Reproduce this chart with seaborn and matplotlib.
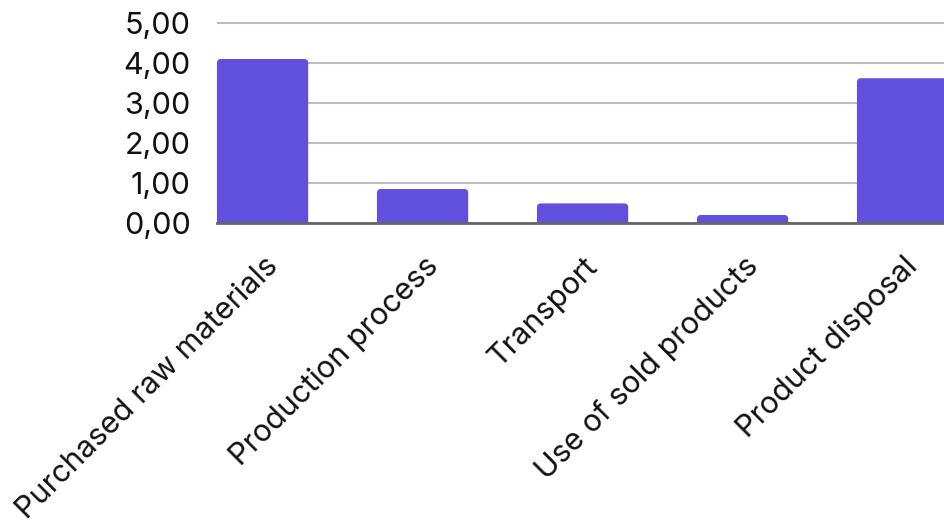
import matplotlib
matplotlib.use("Agg")
import matplotlib.pyplot as plt
import matplotlib.transforms as mtransforms
import seaborn as sns
import pandas as pd
from matplotlib.patches import FancyBboxPatch
from matplotlib.ticker import FuncFormatter

categories = ["Purchased raw materials", "Production process", "Transport",
              "Use of sold products", "Product disposal"]
values = [4.10, 0.85, 0.49, 0.20, 3.62]
yticks = [0, 1, 2, 3, 4, 5]

sns.set_theme(style="white")
plt.rcParams["font.family"] = ["Inter", "DejaVu Sans"]

bar_color = "#6150DD"
df = pd.DataFrame({"category": categories, "value": values})

fig = plt.figure(figsize=(9.45, 5.27), dpi=100)
W, H = 945, 527
bottom_px, px_per_unit, ytop = 223, 40, 5.1
left_px, slot_px, bar_w = 217, 160, 0.57
ax = fig.add_axes([left_px / W, 1 - bottom_px / H,
                   (slot_px * 5 - slot_px * (1 - bar_w)) / W,
                   px_per_unit * ytop / H])

sns.barplot(data=df, x="category", y="value", color=bar_color,
            width=bar_w, saturation=1, ax=ax, zorder=3)

# swap the square bars for ones with rounded top corners
for p in list(ax.patches):
    x0, w, h = p.get_x(), p.get_width(), p.get_height()
    p.remove()
    rb = FancyBboxPatch((x0, -0.3), w, h + 0.3,
                        boxstyle="round,pad=0,rounding_size=0.025",
                        mutation_aspect=slot_px / px_per_unit,
                        facecolor=bar_color, edgecolor="none", zorder=3)
    ax.add_patch(rb)

ax.set_xlim(-bar_w / 2, 4 + bar_w / 2)
ax.set_ylim(0, ytop)
ax.set_yticks(yticks)
ax.yaxis.set_major_formatter(FuncFormatter(lambda v, _: f"{v:.2f}".replace(".", ",")))
ax.grid(axis="y", color="#BDBDBD", linewidth=1.5, zorder=0)
ax.grid(axis="x", visible=False)
for s in ["top", "right", "left"]:
    ax.spines[s].set_visible(False)
ax.spines["bottom"].set_color("#666666")
ax.spines["bottom"].set_linewidth(2)
ax.spines["bottom"].set_zorder(4)
ax.set_xlabel("")
ax.set_ylabel("")
ax.tick_params(axis="y", length=0, pad=19, labelsize=22, labelcolor="#111111")
ax.tick_params(axis="x", length=0, pad=28, labelsize=22, labelcolor="#111111")
shift = mtransforms.ScaledTranslation(11 / 100, 0, fig.dpi_scale_trans)
for lbl in ax.get_xticklabels():
    lbl.set_rotation(45)
    lbl.set_ha("right")
    lbl.set_va("center")
    lbl.set_rotation_mode("anchor")
    lbl.set_transform(lbl.get_transform() + shift)

fig.savefig("out.png", dpi=100)
